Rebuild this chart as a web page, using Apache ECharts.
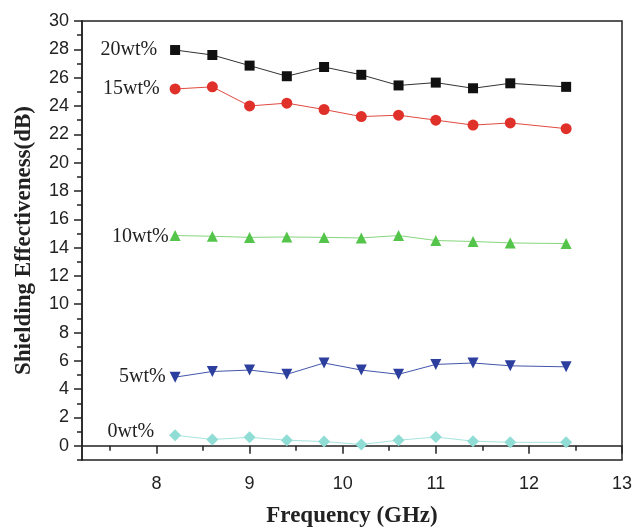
<!DOCTYPE html>
<html>
<head>
<meta charset="utf-8">
<script src="https://cdn.jsdelivr.net/npm/echarts@6/dist/echarts.min.js"></script>
<style>html,body{margin:0;padding:0;background:#fff}#c{width:643px;height:530px}</style>
</head>
<body>
<div id="c"></div>
<script>
// ---- data ----
const freq = [8.2, 8.6, 9.0, 9.4, 9.8, 10.2, 10.6, 11.0, 11.4, 11.8, 12.4];
const se20 = [27.95, 27.6, 26.85, 26.1, 26.75, 26.2, 25.45, 25.65, 25.25, 25.6, 25.35];
const se15 = [25.2, 25.35, 24.0, 24.2, 23.75, 23.25, 23.35, 23.0, 22.65, 22.8, 22.4];
const se10 = [14.85, 14.8, 14.72, 14.75, 14.72, 14.68, 14.85, 14.5, 14.43, 14.33, 14.28];
const se5  = [4.85, 5.25, 5.35, 5.05, 5.85, 5.35, 5.05, 5.75, 5.85, 5.65, 5.58];
const se0  = [0.75, 0.45, 0.6, 0.4, 0.3, 0.1, 0.4, 0.62, 0.33, 0.25, 0.25];
const seriesNames = ['20wt%', '15wt%', '10wt%', '5wt%', '0wt%'];
const xLabelTicks = [8, 9, 10, 11, 12, 13];
const xMinorTicks = [7.5, 8.5, 9.5, 10.5, 11.5, 12.5];
const yLabelTicks = [0, 2, 4, 6, 8, 10, 12, 14, 16, 18, 20, 22, 24, 26, 28, 30];
const yMinorTicks = [-1, 1, 3, 5, 7, 9, 11, 13, 15, 17, 19, 21, 23, 25, 27, 29];

// ---- styles ----
const styles = [
  {color:'#111111', line:'#333333', symbol:'rect', size:10, dist:13, dy:0},
  {color:'#e0302a', line:'#e04a40', symbol:'circle', size:11, dist:10, dy:0},
  {color:'#55c44a', line:'#86d67e', symbol:'triangle', size:11, dist:1, dy:1},
  {color:'#2c3f9e', line:'#4355aa', symbol:'triangle', rotate:180, size:11, dist:4, dy:0},
  {color:'#8fddd5', line:'#a6e3dd', symbol:'diamond', size:12, dist:15, dy:-3}
];
const allVals = [se20, se15, se10, se5, se0];

const axisCol = '#222';
const series = allVals.map((vals, k) => {
  const st = styles[k];
  const data = freq.map((f, i) => {
    if (i === 0) {
      return {value:[f, vals[i]], label:{show:true, position:'left', distance:st.dist, offset:[0, st.dy],
        formatter: seriesNames[k], fontFamily:'Liberation Serif', fontSize:20, color:'#222'}};
    }
    return [f, vals[i]];
  });
  return {
    type:'line', name:seriesNames[k], data:data,
    xAxisIndex:0, yAxisIndex:0,
    symbol:st.symbol, symbolSize:st.size, symbolRotate:st.rotate || 0,
    itemStyle:{color:st.color},
    lineStyle:{color:st.line, width:1},
    label:{show:false},
    emphasis:{disabled:true}
  };
});

const chart = echarts.init(document.getElementById('c'), null, {renderer:'canvas'});
chart.setOption({
  animation:false,
  backgroundColor:'#fff',
  grid:{left:82, top:21, right:21, bottom:70, show:true, borderColor:axisCol, borderWidth:1.5,
        backgroundColor:'transparent', containLabel:false, outerBoundsMode:'none'},
  xAxis:[
    {type:'value', min:7.2, max:13, position:'bottom',
     name:'Frequency (GHz)', nameLocation:'middle', nameGap:45,
     nameTextStyle:{fontFamily:'Liberation Serif', fontWeight:'bold', fontSize:23, color:'#222'},
     axisLine:{show:true, lineStyle:{color:axisCol, width:1.5}},
     axisTick:{show:true, length:8, customValues:xLabelTicks, lineStyle:{color:axisCol, width:1.5}},
     axisLabel:{show:true, customValues:xLabelTicks, margin:15, fontFamily:'Liberation Sans', fontSize:18, color:'#222'},
     splitLine:{show:false}},
    {type:'value', min:7.2, max:13, position:'bottom',
     axisLine:{show:false},
     axisTick:{show:true, length:5, customValues:xMinorTicks, lineStyle:{color:axisCol, width:1.5}},
     axisLabel:{show:false}, splitLine:{show:false}}
  ],
  yAxis:[
    {type:'value', min:-1, max:30, position:'left',
     name:'Shielding Effectiveness(dB)', nameLocation:'middle', nameGap:46,
     nameTextStyle:{fontFamily:'Liberation Serif', fontWeight:'bold', fontSize:23, color:'#222'},
     axisLine:{show:true, lineStyle:{color:axisCol, width:1.5}},
     axisTick:{show:true, length:8, customValues:yLabelTicks, lineStyle:{color:axisCol, width:1.5}},
     axisLabel:{show:true, customValues:yLabelTicks, margin:13, fontFamily:'Liberation Sans', fontSize:18, color:'#222'},
     splitLine:{show:false}},
    {type:'value', min:-1, max:30, position:'left',
     axisLine:{show:false},
     axisTick:{show:true, length:5, customValues:yMinorTicks, lineStyle:{color:axisCol, width:1.5}},
     axisLabel:{show:false}, splitLine:{show:false}}
  ],
  series:series
});
</script>
</body>
</html>
